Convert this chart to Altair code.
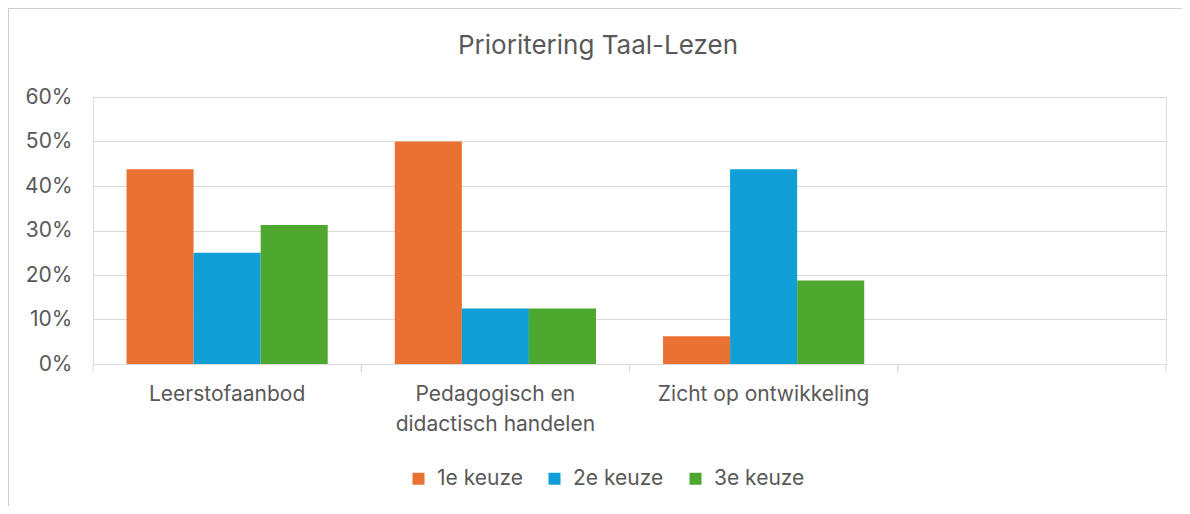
import altair as alt
import pandas as pd

categories = ["Leerstofaanbod", "Pedagogisch en didactisch handelen", "Zicht op ontwikkeling", " "]
series = ["1e keuze", "2e keuze", "3e keuze"]
keuze1 = [0.4375, 0.50, 0.0625]
keuze2 = [0.25, 0.125, 0.4375]
keuze3 = [0.3125, 0.125, 0.1875]
colors = ["#E97132", "#0F9ED5", "#4EA72E"]
y_ticks = [0, 0.1, 0.2, 0.3, 0.4, 0.5, 0.6]
title_text = ["Prioritering Taal-Lezen"]

rows = []
for s, vals in zip(series, [keuze1, keuze2, keuze3]):
    for c, v in zip(categories[:3], vals):
        rows.append({"categorie": c, "keuze": s, "waarde": v})
df = pd.DataFrame(rows)
cat_df = pd.DataFrame({"categorie": categories})
title_df = pd.DataFrame({"titel": title_text})

W, H = 1073, 267
FONT = "Inter"
GREY = "#595959"

xscale = alt.Scale(domain=categories, paddingInner=0, paddingOuter=0)

bars = alt.Chart(df).mark_bar().encode(
    x=alt.X("categorie:N", scale=xscale, sort=categories,
            axis=alt.Axis(title=None, labelAngle=0, ticks=False, domain=True,
                          domainColor="#d9d9d9", labelFont=FONT, labelFontSize=21,
                          labelColor=GREY, labelPadding=19, labelBaseline="top",
                          labelLineHeight=30, labelLimit=400,
                          labelExpr="datum.label == 'Pedagogisch en didactisch handelen' ? ['Pedagogisch en', 'didactisch handelen'] : datum.label")),
    xOffset=alt.XOffset("keuze:N", sort=series,
                        scale=alt.Scale(domain=series, paddingInner=0, paddingOuter=0.5)),
    y=alt.Y("waarde:Q", scale=alt.Scale(domain=[0, 0.6], nice=False),
            axis=alt.Axis(title=None, format=".0%", values=y_ticks, ticks=False, domain=False,
                          grid=True, gridColor="#d9d9d9", labelFont=FONT, labelFontSize=21,
                          labelColor=GREY, labelPadding=21)),
    color=alt.Color("keuze:N", sort=series,
                    scale=alt.Scale(domain=series, range=colors),
                    legend=alt.Legend(title=None, orient="none", direction="horizontal",
                                      legendX=315, legendY=371, symbolType="square",
                                      symbolSize=144, symbolStrokeWidth=0,
                                      labelFont=FONT, labelFontSize=21, labelColor=GREY,
                                      labelOffset=8, columnPadding=21)),
)

tick_style = dict(color="#d9d9d9", strokeWidth=1)
ticks_left = alt.Chart(cat_df).mark_rule(**tick_style).encode(
    x=alt.X("categorie:N", scale=xscale, sort=categories, bandPosition=0),
    y=alt.value(H), y2=alt.value(H + 8),
)
ticks_right = alt.Chart(cat_df).mark_rule(**tick_style).encode(
    x=alt.X("categorie:N", scale=xscale, sort=categories, bandPosition=1),
    y=alt.value(H), y2=alt.value(H + 8),
)
border = alt.Chart(cat_df.head(1)).mark_rect(fill=None, stroke="#d0d0d0", strokeWidth=2).encode(
    x=alt.value(-85), x2=alt.value(W + 200), y=alt.value(-89), y2=alt.value(H + 300),
)
title = alt.Chart(title_df).mark_text(font=FONT, fontSize=26, color=GREY,
                                      align="center", baseline="middle").encode(
    text="titel:N", x=alt.value(505), y=alt.value(-51),
)

chart = alt.layer(border, title, bars, ticks_left, ticks_right).properties(
    width=W, height=H,
    autosize=alt.AutoSizeParams(type="none"),
    padding={"left": 85, "top": 89, "right": 16, "bottom": 142},
).configure_view(stroke=None).configure(background="white")

chart.save("out.html", embed_options={"renderer": "svg", "actions": False})
